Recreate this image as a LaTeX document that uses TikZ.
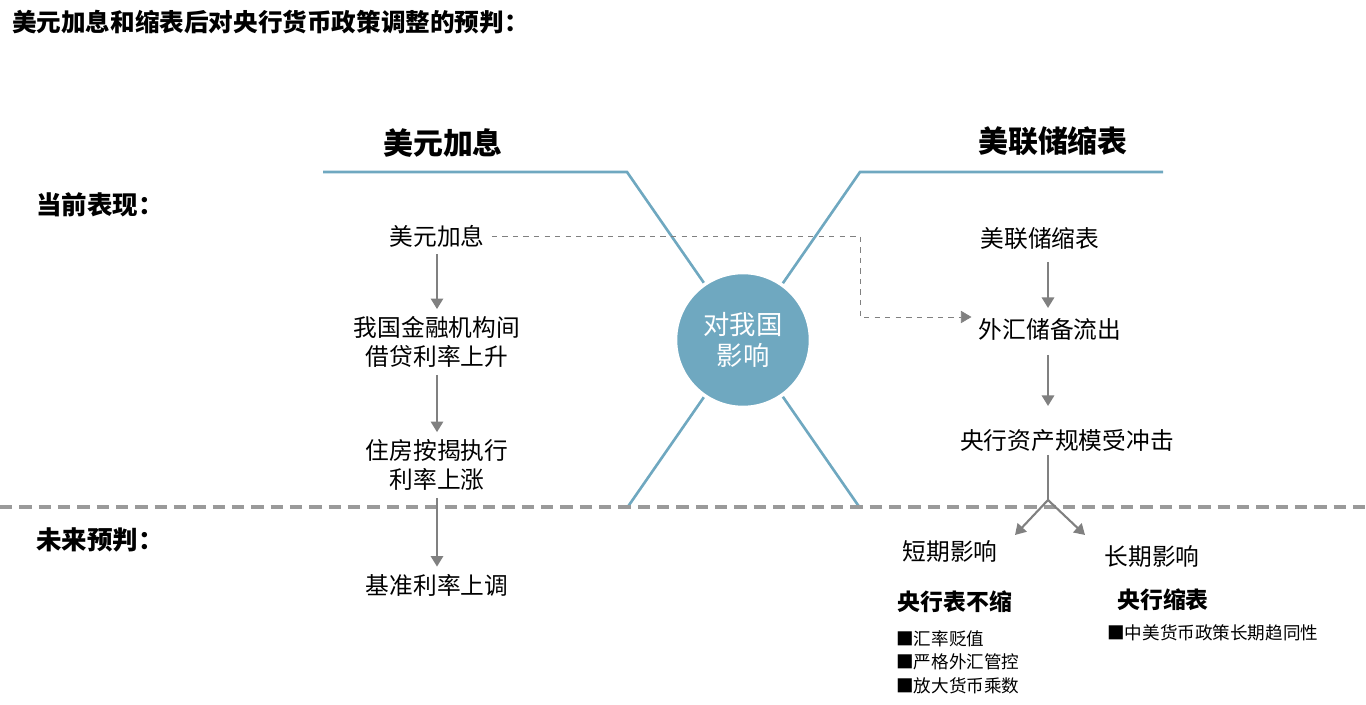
\documentclass[tikz,border=0pt]{standalone}
\usepackage{fontspec}
\setmainfont{Noto Sans CJK SC}
\usetikzlibrary{positioning, arrows.meta}
\definecolor{tealline}{HTML}{6FA8C0}
\definecolor{arrowgray}{HTML}{808080}
\tikzstyle{mysep}=[dashed, dash pattern=on 7pt off 4pt, line width=2pt, arrowgray!80]

\begin{document}
\begin{tikzpicture}[x=0.02cm, y=-0.02cm]
    \tikzset {
        step text/.style={font=\fontsize{13.5}{16.5}\selectfont, align=center, inner sep=4pt},
        head text/.style={font=\fontsize{17}{20}\selectfont\bfseries},
        side text/.style={font=\fontsize{14.5}{17}\selectfont\bfseries, anchor=west},
        sub text/.style={font=\fontsize{13}{15}\selectfont\bfseries},
        bullet text/.style={font=\fontsize{10}{13.5}\selectfont, align=left, anchor=north west, inner sep=0pt},
        flow arrow/.style={-{Triangle[length=6pt, width=7pt]}, arrowgray, line width=1.2pt}
    }
    \useasboundingbox (0,0) rectangle (1366,705);

    % title and side labels
    \node[font=\fontsize{14}{16}\selectfont\bfseries, anchor=west] (title) at (6,22) {美元加息和缩表后对央行货币政策调整的预判：};
    \node[side text] (now) at (30,205) {当前表现：};
    \node[side text] (future) at (30,540) {未来预判：};

    % frame
    \draw[tealline, line width=1.5pt] (323,172) -- (627,172) -- (860,508);
    \draw[tealline, line width=1.5pt] (1163,172) -- (860,172) -- (627,508);
    \node[circle, fill=tealline, draw=white, line width=2pt, minimum size=2.7cm, text=white, align=center, font=\fontsize{15}{18}\selectfont] (center) at (743,340) {对我国\\影响};
    \draw[mysep] (0,507) -- (1366,507);

    \node[head text] (lhead) at (443,143) {美元加息};
    \node[head text] (rhead) at (1053,141) {美联储缩表};

    % left chain
    \node[step text] (hike) at (437,236) {美元加息};
    \node[step text] (interbank) at (437,342) {我国金融机构间\\借贷利率上升};
    \node[step text] (mortgage) at (437,465) {住房按揭执行\\利率上涨};
    \node[step text] (bench) at (437,585) {基准利率上调};
    \draw[flow arrow] (hike) -- (interbank);
    \draw[flow arrow] (interbank) -- (mortgage);
    \draw[flow arrow] (mortgage) -- (bench);

    % right chain
    \node[step text] (taper) at (1040,239) {美联储缩表};
    \node[step text] (outflow) at (1050,329) {外汇储备流出};
    \node[step text] (asset) at (1067,441) {央行资产规模受冲击};
    \coordinate (fork) at (1048,500);
    \coordinate (bend) at (860,317);
    \node[step text] (short) at (950,552) {短期影响};
    \node[step text] (long) at (1152,557) {长期影响};
    \draw[flow arrow] (1048,262) -- (1048,308);
    \draw[flow arrow] (1048,355) -- (1048,406);
    \draw[arrowgray, line width=1.2pt] (1048,455) -- (fork);
    \draw[flow arrow] (fork) -- (1015,535);
    \draw[flow arrow] (fork) -- (1085,535);

    % cross connector
    \draw[arrowgray, dashed, -{Triangle[length=6pt, width=7pt]}] (hike.east) -- (860,236) -- (bend) -- (bend -| outflow.west);

    % outcomes
    \node[sub text] (keep) at (955,602) {央行表不缩};
    \node[sub text] (shrink) at (1163,600) {央行缩表};
    \node[bullet text] (keeplist) at (896,630) {■汇率贬值\\■严格外汇管控\\■放大货币乘数};
    \node[bullet text] (shrinklist) at (1107,624) {■中美货币政策长期趋同性};
\end{tikzpicture}
\end{document}
